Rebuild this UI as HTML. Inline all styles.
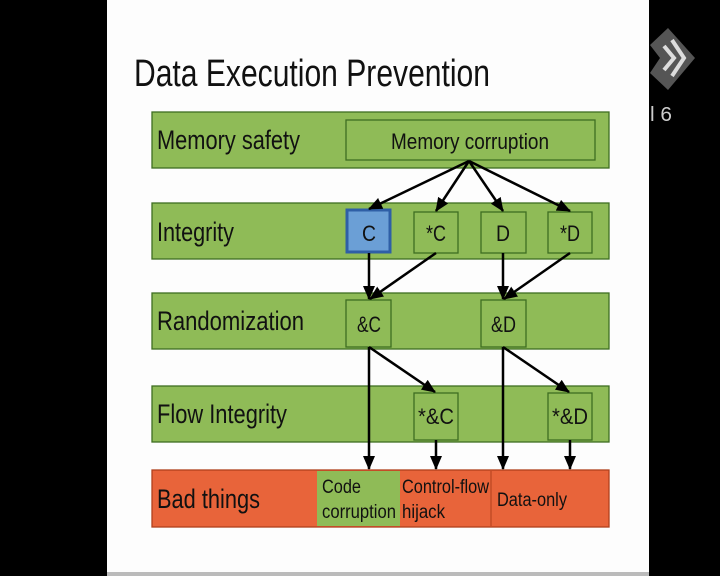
<!DOCTYPE html>
<html><head><meta charset="utf-8"><style>
body{margin:0;width:720px;height:576px;background:#000;overflow:hidden;position:relative;font-family:"Liberation Sans",sans-serif}
</style></head><body>
<svg width="720" height="576" style="position:absolute;left:0;top:0" font-family="Liberation Sans, sans-serif">
<defs><marker id="a" markerWidth="14" markerHeight="12" refX="13" refY="6" orient="auto" markerUnits="userSpaceOnUse"><path d="M0,0 L14,6 L0,12 Z" fill="#000"/></marker></defs>
<rect x="107" y="0" width="542" height="576" fill="#fdfdfd"/>
<rect x="107" y="572" width="542" height="4" fill="#bbb"/>
<path d="M650,45 L668,28 L695,58 L668,90 L650,73 L660,58 Z" fill="#555"/>
<path d="M672,40 L684,58 L672,76 M664,46 L674,58 L664,70" stroke="#ddd" stroke-width="4" fill="none"/>
<text x="650" y="121" fill="#ccc" font-size="20" textLength="22" lengthAdjust="spacingAndGlyphs">l 6</text>
<text x="134" y="86" font-size="38" fill="#111" textLength="356" lengthAdjust="spacingAndGlyphs">Data Execution Prevention</text>
<g stroke="#3f6e22" stroke-width="1.3" fill="#8fbb57">
<rect x="152" y="112" width="457" height="56"/>
<rect x="346" y="120" width="249" height="40"/>
<rect x="152" y="203" width="457" height="56"/>
<rect x="414" y="212" width="44" height="41"/>
<rect x="481" y="212" width="45" height="41"/>
<rect x="548" y="212" width="44" height="41"/>
<rect x="152" y="293" width="457" height="56"/>
<rect x="346" y="300" width="45" height="47"/>
<rect x="481" y="300" width="45" height="47"/>
<rect x="152" y="386" width="457" height="56"/>
<rect x="414" y="393" width="44" height="47"/>
<rect x="548" y="393" width="44" height="47"/>
</g>
<rect x="347" y="210" width="43" height="42" fill="#6b9fd6" stroke="#2f5fa6" stroke-width="3"/>
<rect x="152" y="470" width="457" height="57" fill="#e8643a" stroke="#b0401c" stroke-width="1.3"/>
<rect x="317" y="471" width="83" height="55" fill="#8fbb57"/>
<line x1="491" y1="471" x2="491" y2="526" stroke="#b0401c"/>
<g font-size="27" fill="#111" lengthAdjust="spacingAndGlyphs">
<text x="157" y="149" textLength="143" lengthAdjust="spacingAndGlyphs">Memory safety</text>
<text x="157" y="241" textLength="77" lengthAdjust="spacingAndGlyphs">Integrity</text>
<text x="157" y="330" textLength="147" lengthAdjust="spacingAndGlyphs">Randomization</text>
<text x="157" y="423" textLength="130" lengthAdjust="spacingAndGlyphs">Flow Integrity</text>
<text x="157" y="508" textLength="103" lengthAdjust="spacingAndGlyphs">Bad things</text>
</g>
<g font-size="22" fill="#111">
<text x="391" y="149" textLength="158" lengthAdjust="spacingAndGlyphs">Memory corruption</text>
<text x="362" y="241" textLength="14" lengthAdjust="spacingAndGlyphs">C</text>
<text x="426" y="241" textLength="20" lengthAdjust="spacingAndGlyphs">*C</text>
<text x="496" y="241" textLength="14" lengthAdjust="spacingAndGlyphs">D</text>
<text x="560" y="241" textLength="20" lengthAdjust="spacingAndGlyphs">*D</text>
<text x="357" y="332" textLength="24" lengthAdjust="spacingAndGlyphs">&amp;C</text>
<text x="491" y="332" textLength="25" lengthAdjust="spacingAndGlyphs">&amp;D</text>
<text x="418" y="424" textLength="36" lengthAdjust="spacingAndGlyphs">*&amp;C</text>
<text x="552" y="424" textLength="36" lengthAdjust="spacingAndGlyphs">*&amp;D</text>
</g>
<g font-size="19" fill="#111">
<text x="322" y="493" textLength="39" lengthAdjust="spacingAndGlyphs">Code</text>
<text x="322" y="518" textLength="74" lengthAdjust="spacingAndGlyphs">corruption</text>
<text x="402" y="493" textLength="87" lengthAdjust="spacingAndGlyphs">Control-flow</text>
<text x="402" y="518" textLength="43" lengthAdjust="spacingAndGlyphs">hijack</text>
<text x="497" y="506" textLength="70" lengthAdjust="spacingAndGlyphs">Data-only</text>
</g>
<g stroke="#000" stroke-width="2.5" marker-end="url(#a)">
<line x1="469" y1="161" x2="369" y2="209"/>
<line x1="469" y1="161" x2="436" y2="211"/>
<line x1="469" y1="161" x2="503" y2="211"/>
<line x1="469" y1="161" x2="570" y2="211"/>
<line x1="369" y1="253" x2="369" y2="299"/>
<line x1="436" y1="253" x2="370" y2="299"/>
<line x1="503" y1="253" x2="503" y2="299"/>
<line x1="570" y1="253" x2="504" y2="299"/>
<line x1="369" y1="347" x2="435" y2="392"/>
<line x1="369" y1="347" x2="369" y2="469"/>
<line x1="503" y1="347" x2="569" y2="392"/>
<line x1="503" y1="347" x2="503" y2="469"/>
<line x1="436" y1="440" x2="436" y2="469"/>
<line x1="570" y1="440" x2="570" y2="469"/>
</g>
</svg>
</body></html>
